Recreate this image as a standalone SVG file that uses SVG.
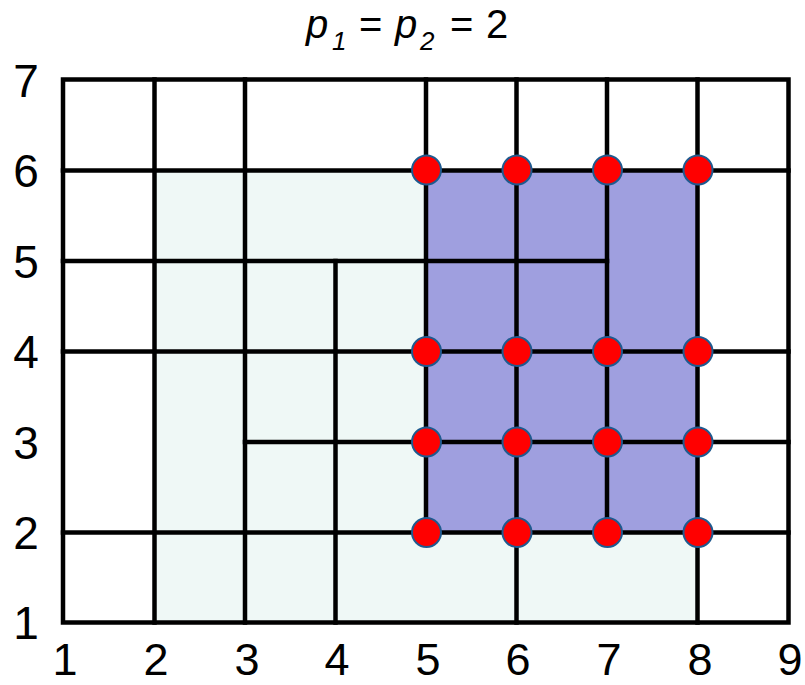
<svg xmlns="http://www.w3.org/2000/svg" width="805" height="685" viewBox="0 0 805 685">
<style>
.g{stroke:#000;stroke-width:4.5;fill:none;stroke-linecap:square}
.lbl{font-family:"Liberation Sans",Arial,sans-serif;font-size:46px;fill:#000;text-anchor:middle}
.xl{font-size:45px}
.t{font-family:"Liberation Sans",Arial,sans-serif;fill:#000}
.pt{fill:#ff0000;stroke:#1f5a8f;stroke-width:2}
</style>
<rect width="805" height="685" fill="#fff"/>
<g id="fills">
<path d="M154.5 170.5 H426 V532.5 H697.5 V623 H154.5 Z" fill="#eff8f6"/>
<rect x="426" y="170.5" width="271.5" height="362" fill="#9f9fdf"/>
</g>
<g id="connectors" class="g">
<rect x="63" y="79.5" width="725.5" height="543"/>
<line x1="63" y1="170.5" x2="788.5" y2="170.5"/>
<line x1="63" y1="261" x2="607" y2="261"/>
<line x1="63" y1="351.5" x2="788.5" y2="351.5"/>
<line x1="245" y1="442" x2="788.5" y2="442"/>
<line x1="63" y1="532.5" x2="788.5" y2="532.5"/>
<line x1="154.5" y1="79.5" x2="154.5" y2="622.5"/>
<line x1="245" y1="79.5" x2="245" y2="622.5"/>
<line x1="335.5" y1="261" x2="335.5" y2="622.5"/>
<line x1="426" y1="79.5" x2="426" y2="532.5"/>
<line x1="516.5" y1="79.5" x2="516.5" y2="622.5"/>
<line x1="607" y1="79.5" x2="607" y2="532.5"/>
<line x1="697.5" y1="79.5" x2="697.5" y2="622.5"/>
</g>
<g id="points">
<g id="p5_6"><circle class="pt" cx="426.5" cy="170" r="14.5"/></g>
<g id="p6_6"><circle class="pt" cx="517" cy="170" r="14.5"/></g>
<g id="p7_6"><circle class="pt" cx="607.5" cy="170" r="14.5"/></g>
<g id="p8_6"><circle class="pt" cx="698" cy="170" r="14.5"/></g>
<g id="p5_4"><circle class="pt" cx="426.5" cy="351.5" r="14.5"/></g>
<g id="p6_4"><circle class="pt" cx="517" cy="351.5" r="14.5"/></g>
<g id="p7_4"><circle class="pt" cx="607.5" cy="351.5" r="14.5"/></g>
<g id="p8_4"><circle class="pt" cx="698" cy="351.5" r="14.5"/></g>
<g id="p5_3"><circle class="pt" cx="426.5" cy="442" r="14.5"/></g>
<g id="p6_3"><circle class="pt" cx="517" cy="442" r="14.5"/></g>
<g id="p7_3"><circle class="pt" cx="607.5" cy="442" r="14.5"/></g>
<g id="p8_3"><circle class="pt" cx="698" cy="442" r="14.5"/></g>
<g id="p5_2"><circle class="pt" cx="426.5" cy="532.5" r="14.5"/></g>
<g id="p6_2"><circle class="pt" cx="517" cy="532.5" r="14.5"/></g>
<g id="p7_2"><circle class="pt" cx="607.5" cy="532.5" r="14.5"/></g>
<g id="p8_2"><circle class="pt" cx="698" cy="532.5" r="14.5"/></g>
</g>
<g id="y-axis">
<text class="lbl" x="26" y="97">7</text>
<text class="lbl" x="26" y="187">6</text>
<text class="lbl" x="26" y="278">5</text>
<text class="lbl" x="26" y="368">4</text>
<text class="lbl" x="26" y="459">3</text>
<text class="lbl" x="26" y="549">2</text>
<text class="lbl" x="26" y="639">1</text>
</g>
<g id="x-axis">
<text class="lbl xl" x="65" y="675">1</text>
<text class="lbl xl" x="156" y="675">2</text>
<text class="lbl xl" x="247" y="675">3</text>
<text class="lbl xl" x="337" y="675">4</text>
<text class="lbl xl" x="428" y="675">5</text>
<text class="lbl xl" x="518" y="675">6</text>
<text class="lbl xl" x="609" y="675">7</text>
<text class="lbl xl" x="700" y="675">8</text>
<text class="lbl xl" x="790" y="675">9</text>
</g>
<g id="title">
<text class="t" y="38" font-size="40"><tspan x="306" font-style="italic">p</tspan><tspan x="332" y="50" font-size="26" font-style="italic">1</tspan><tspan x="359" y="38">=</tspan><tspan x="395" font-style="italic">p</tspan><tspan x="420" y="50" font-size="26" font-style="italic">2</tspan><tspan x="450" y="38">=</tspan><tspan x="486">2</tspan></text>
</g>
</svg>
